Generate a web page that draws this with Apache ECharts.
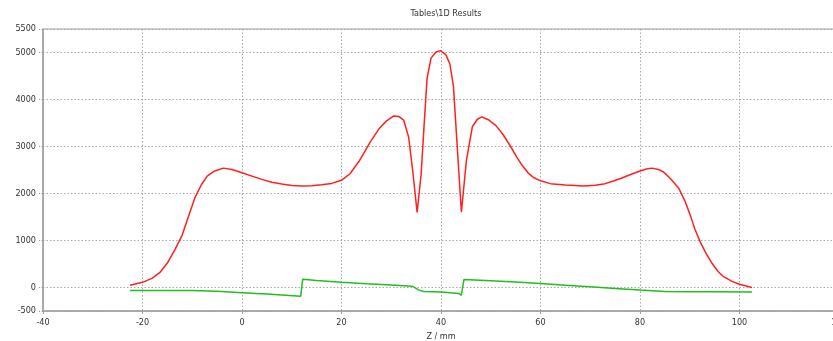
<!DOCTYPE html>
<html>
<head>
<meta charset="utf-8">
<script src="https://cdn.jsdelivr.net/npm/echarts@6/dist/echarts.min.js"></script>
<style>html,body{margin:0;padding:0;background:#fff;}#c{width:833px;height:341px;}</style>
</head>
<body>
<div id="c"></div>
<script>
const titleText = "Tables\\1D Results";
const xAxisName = "Z / mm";

const redX = [-22.5,-20,-18,-16.5,-15,-13.5,-12,-10.8,-9.5,-8.2,-7,-5.5,-3.75,-2,0,2,4,6,8,10,12,14,16,18,20,21.7,23.5,25.8,27.5,29,30.5,31.5,32.5,33.5,34.3,35.2,36.0,36.6,37.2,38,39,39.9,41,41.8,42.5,43.2,44.1,45.1,46.3,47.3,48.2,49.5,51,52.5,54,55.2,56.3,57.5,58.6,60,62,65,68.7,71,72.7,74.5,76.1,78,80,81.3,82.4,83.7,84.7,86,87.8,89,90.1,91,92.1,93.3,94.5,95.7,96.8,98.5,100,102.5];
const redY = [50,110,200,320,520,800,1120,1500,1900,2180,2370,2480,2540,2510,2440,2370,2300,2240,2200,2170,2160,2165,2185,2215,2280,2420,2680,3100,3370,3540,3650,3640,3560,3200,2500,1600,2400,3450,4450,4880,5010,5040,4950,4750,4280,3100,1600,2700,3420,3580,3630,3570,3450,3250,3000,2780,2600,2440,2340,2270,2210,2180,2160,2175,2200,2260,2320,2400,2480,2520,2540,2510,2460,2330,2110,1850,1540,1250,970,720,510,340,230,130,70,0];

const greenX = [-22.5,-10,-5,0,5,11.8,12.2,15,20,25,30,34.2,35.5,36.5,40,43.6,44.1,44.6,50,55,60,65,70,75,80,85,90,95,102.5];
const greenY = [-65,-65,-80,-110,-140,-185,175,150,110,80,55,28,-50,-85,-95,-130,-165,170,145,115,85,50,15,-20,-55,-85,-88,-90,-95];

const xTicks = {min:-40, max:120, interval:20};
const yRange = {min:-500, max:5500};

const zip = (xs, ys) => xs.map((x, i) => [x, ys[i]]);
const font = "'DejaVu Sans Condensed', 'DejaVu Sans', sans-serif";
const gridLine = {show:true, lineStyle:{color:'#a8a8a8', type:[1.5,2], width:1}};
const plain = v => String(v);

const chart = echarts.init(document.getElementById('c'), null, {renderer:'canvas'});
chart.setOption({
  animation:false,
  backgroundColor:'#ffffff',
  textStyle:{fontFamily:font},
  title:{text:titleText, left:441, top:4, textAlign:'center',
    textStyle:{fontSize:9, fontWeight:'normal', color:'#333', fontFamily:font}},
  grid:{left:43, right:-6, top:29, bottom:30, show:true, borderColor:'#a0a0a0', borderWidth:1,
    outerBoundsMode:'none', containLabel:false},
  xAxis:{type:'value', min:xTicks.min, max:xTicks.max, interval:xTicks.interval,
    name:xAxisName, nameLocation:'middle', nameGap:20,
    nameTextStyle:{fontSize:9, color:'#333', fontFamily:font},
    axisLine:{show:true, onZero:false, lineStyle:{color:'#a0a0a0', width:1.5}},
    axisTick:{show:true, length:3, lineStyle:{color:'#a0a0a0'}},
    axisLabel:{fontSize:9, color:'#333', margin:7, fontFamily:font, formatter:plain},
    splitLine:gridLine},
  yAxis:{type:'value', min:yRange.min, max:yRange.max, splitNumber:6,
    axisLine:{show:true, onZero:false, lineStyle:{color:'#a0a0a0', width:1.5}},
    axisTick:{show:true, length:4, lineStyle:{color:'#9a9a9a', type:[1.5,1.5]}},
    axisLabel:{fontSize:9, color:'#333', margin:7, fontFamily:font, formatter:plain},
    splitLine:gridLine},
  series:[
    {type:'line', data:zip(redX, redY), showSymbol:false, symbol:'none',
      lineStyle:{color:'#ff2020', width:1.5}, z:3},
    {type:'line', data:zip(greenX, greenY), showSymbol:false, symbol:'none',
      lineStyle:{color:'#1fbf1f', width:1.5}, z:2}
  ]
});
</script>
</body>
</html>
